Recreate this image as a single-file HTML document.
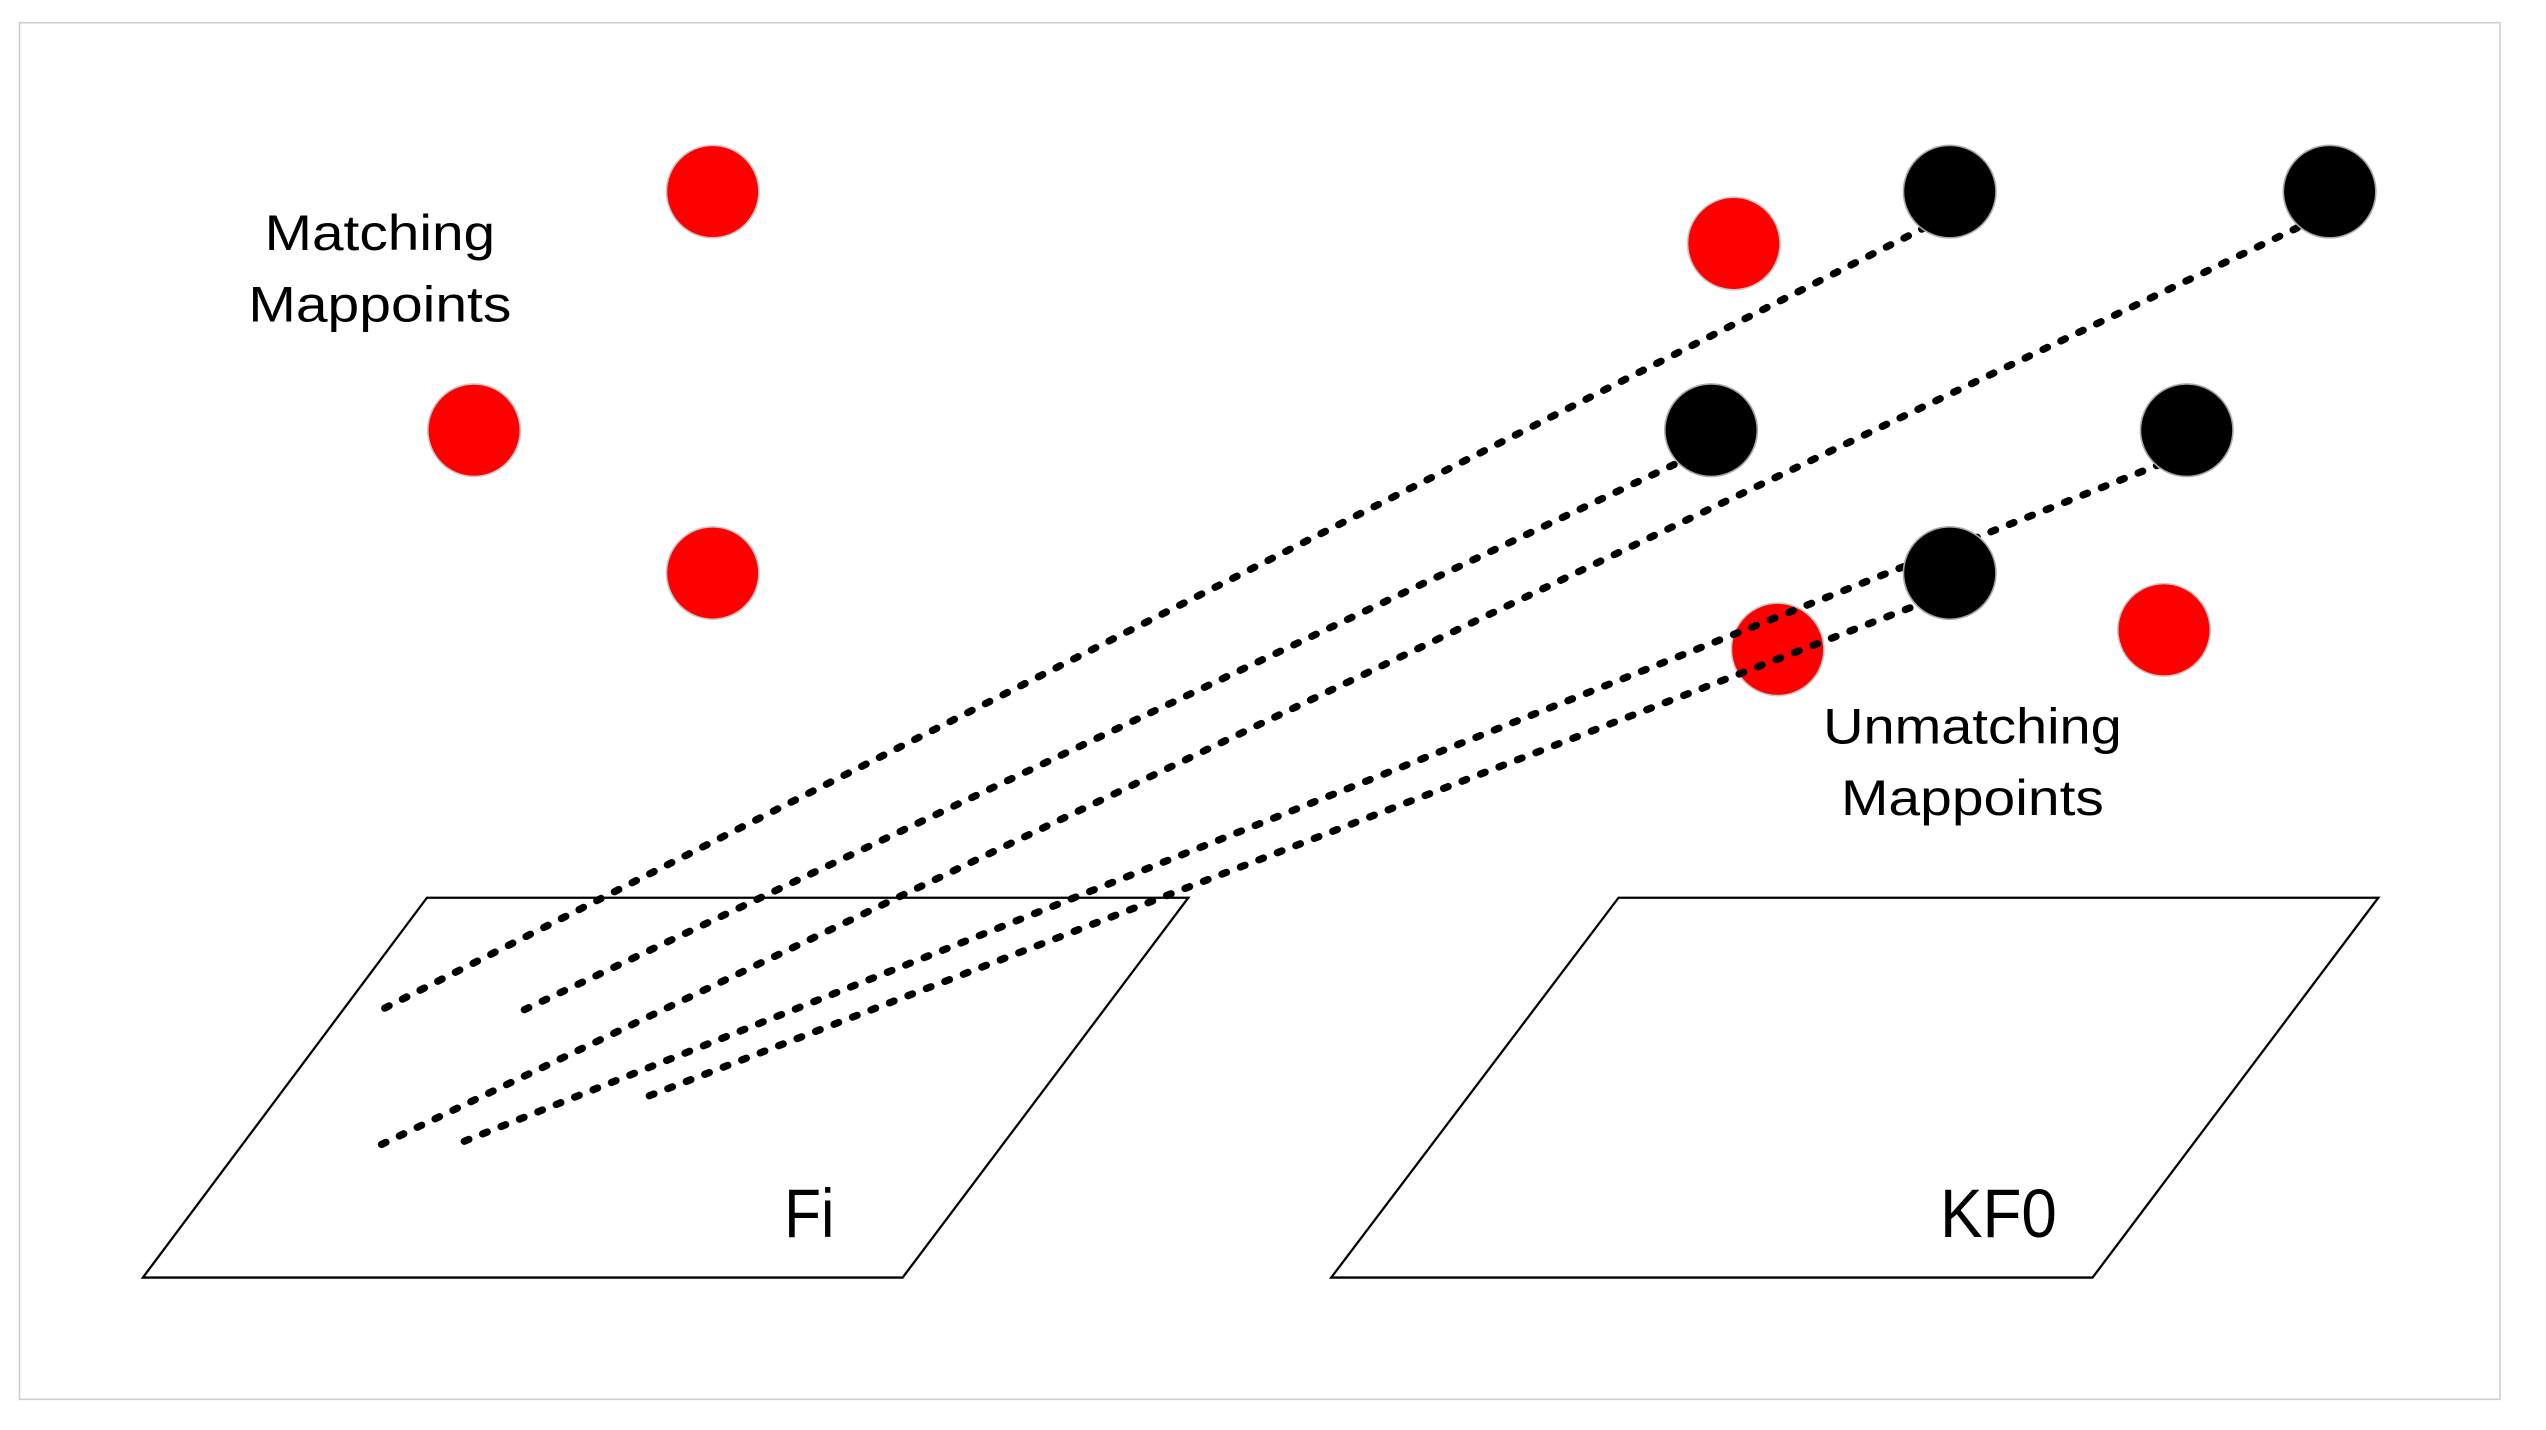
<!DOCTYPE html>
<html><head><style>html,body{margin:0;padding:0;background:#fff;}svg{display:block}</style></head>
<body>
<svg width="2546" height="1430" viewBox="0 0 1568.3 880.9" preserveAspectRatio="none" xmlns="http://www.w3.org/2000/svg">
<rect x="0" y="0" width="1568.3" height="880.9" fill="#fff"/>
<rect x="12" y="14" width="1528" height="848" fill="none" stroke="#d0d0d0" stroke-width="1"/>
<g fill="#ff0000" stroke="#c8c8c8" stroke-width="1">
<circle cx="439" cy="118" r="28.5"/>
<circle cx="292" cy="265" r="28.5"/>
<circle cx="439" cy="353" r="28.5"/>
<circle cx="1068" cy="150" r="28.5"/>
<circle cx="1095" cy="400" r="28.5"/>
<circle cx="1333" cy="388" r="28.5"/>
</g>
<g fill="none" stroke="#000" stroke-width="1.4">
<polygon points="263,553 732,553 556,787 88,787"/>
<polygon points="997,553 1465,553 1289,787 820,787"/>
</g>
<g stroke="#000" stroke-width="4.5" stroke-dasharray="3,9.2" stroke-linecap="round" fill="none">
<line x1="237" y1="621" x2="1186" y2="140"/>
<line x1="323" y1="622" x2="1040" y2="282"/>
<line x1="235" y1="705" x2="1420" y2="138"/>
<line x1="286" y1="703" x2="1333" y2="285"/>
<line x1="400" y1="675" x2="1188" y2="370"/>
</g>
<g fill="#000" stroke="#aaa" stroke-width="1">
<circle cx="1201" cy="118" r="28.5"/>
<circle cx="1435" cy="118" r="28.5"/>
<circle cx="1054" cy="265" r="28.5"/>
<circle cx="1347" cy="265" r="28.5"/>
<circle cx="1201" cy="353" r="28.5"/>
</g>
<g font-family="Liberation Sans, sans-serif" fill="#000" font-size="31">
<text x="163" y="154" textLength="142" lengthAdjust="spacingAndGlyphs">Matching</text>
<text x="153" y="198" textLength="162" lengthAdjust="spacingAndGlyphs">Mappoints</text>
<text x="1123" y="458" textLength="184" lengthAdjust="spacingAndGlyphs">Unmatching</text>
<text x="1134" y="502" textLength="162" lengthAdjust="spacingAndGlyphs">Mappoints</text>
</g>
<g font-family="Liberation Sans, sans-serif" fill="#000" font-size="42">
<text x="483" y="762" textLength="31" lengthAdjust="spacingAndGlyphs">Fi</text>
<text x="1195" y="762" textLength="72" lengthAdjust="spacingAndGlyphs">KF0</text>
</g>
</svg>
</body></html>
